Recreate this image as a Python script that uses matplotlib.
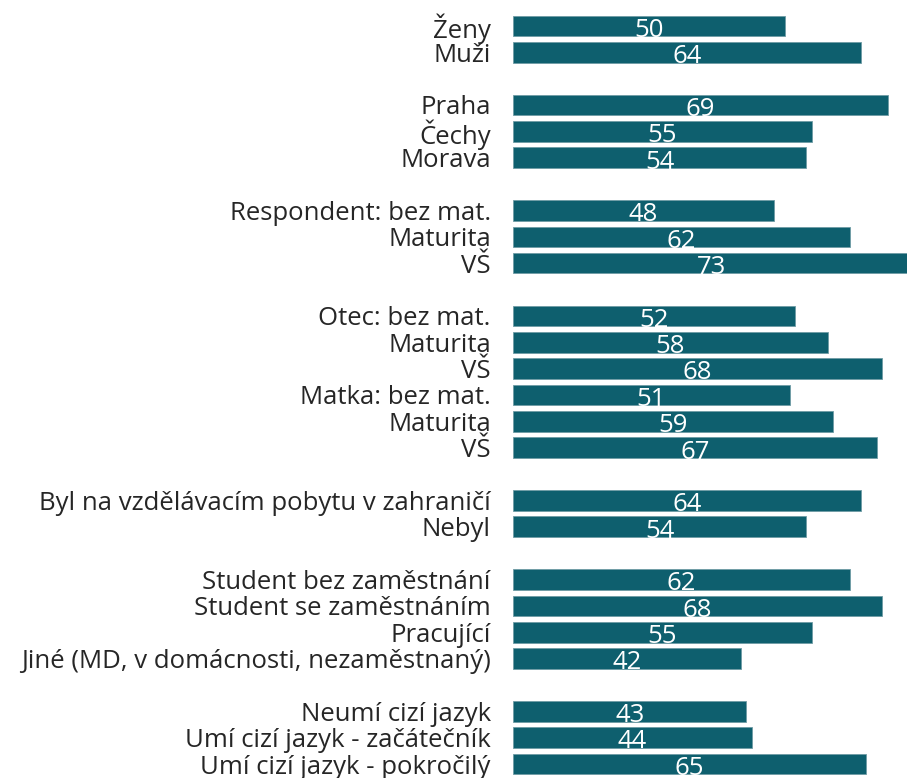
import matplotlib
matplotlib.use("Agg")
import matplotlib.pyplot as plt

# categories in display order, None = blank spacer row between groups
labels = [
    "Ženy", "Muži", None,
    "Praha", "Čechy", "Morava", None,
    "Respondent: bez mat.", "Maturita", "VŠ", None,
    "Otec: bez mat.", "Maturita", "VŠ", "Matka: bez mat.", "Maturita", "VŠ", None,
    "Byl na vzdělávacím pobytu v zahraničí", "Nebyl", None,
    "Student bez zaměstnání", "Student se zaměstnáním", "Pracující",
    "Jiné (MD, v domácnosti, nezaměstnaný)", None,
    "Neumí cizí jazyk", "Umí cizí jazyk - začátečník", "Umí cizí jazyk - pokročilý",
]
values = [
    50, 64, None,
    69, 55, 54, None,
    48, 62, 73, None,
    52, 58, 68, 51, 59, 67, None,
    64, 54, None,
    62, 68, 55, 42, None,
    43, 44, 65,
]

plt.rcParams['font.family'] = ['Open Sans', 'DejaVu Sans']

bar_color = "#0e5f6e"
bar_h = 0.78

fig = plt.figure(figsize=(9.07, 7.78), dpi=100)
ax = fig.add_axes([513 / 907, 0, 1 - 513 / 907, 1])

rows = [i for i, v in enumerate(values) if v is not None]
vals = [values[i] for i in rows]
names = [labels[i] for i in rows]

ax.barh(rows, vals, height=bar_h, color=bar_color, edgecolor="#6f9ca5", linewidth=0.6)

# value labels: white, centred in the bar, baseline sitting on the bar bottom
for r, v in zip(rows, vals):
    ax.text(v / 2, r + bar_h / 2 + 0.02, str(v), ha="center", va="baseline",
            color="white", fontsize=18.5, clip_on=True)

ax.set_yticks(rows)
ax.set_yticklabels(names, fontsize=18.5, color="#262626")
ax.tick_params(axis="y", length=0, pad=16)
ax.set_xticks([])
ax.set_xlim(0, (907 - 513) / 5.43)
ax.set_ylim(28.53, -0.983)
for s in ax.spines.values():
    s.set_visible(False)

fig.savefig("out.png", dpi=100)
